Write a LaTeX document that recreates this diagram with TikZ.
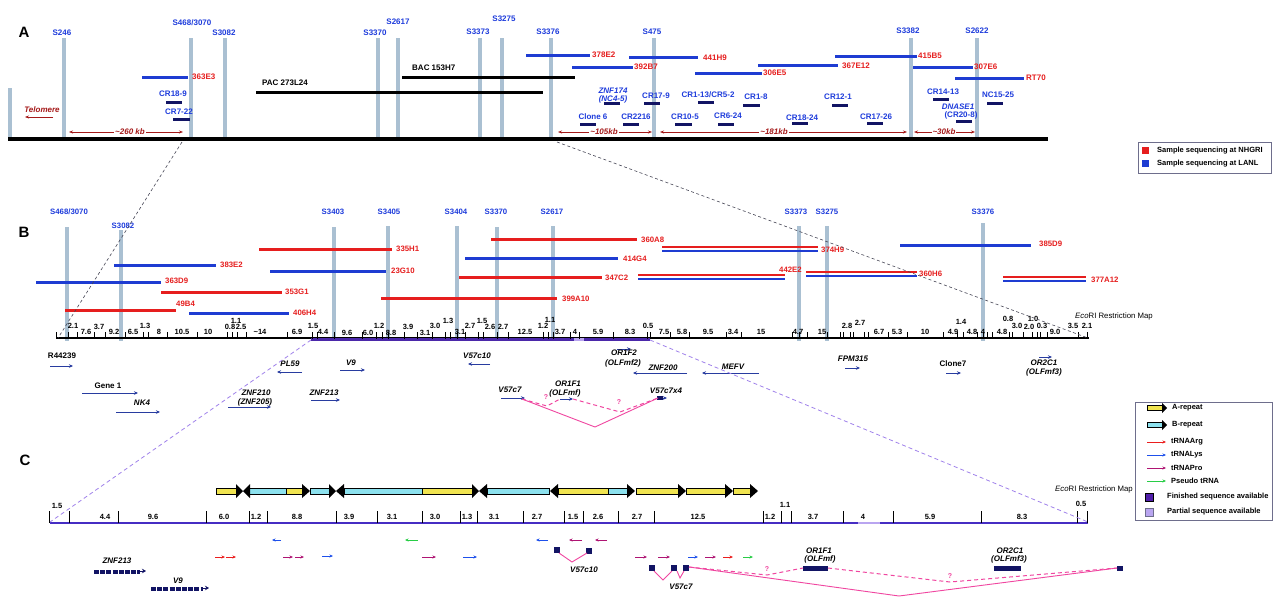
\documentclass[tikz,border=0pt]{standalone}
\usepackage{fontspec}
\setmainfont{Liberation Sans}
\usetikzlibrary{arrows.meta}
\definecolor{barg}{RGB}{170,192,210}
\definecolor{stsblue}{RGB}{30,60,220}
\definecolor{clred}{RGB}{230,30,30}
\definecolor{clblue}{RGB}{30,60,210}
\definecolor{navyb}{RGB}{18,20,100}
\definecolor{dred}{RGB}{165,25,25}
\definecolor{genebl}{RGB}{40,60,160}
\definecolor{mapp}{RGB}{75,40,170}
\definecolor{cmap}{RGB}{70,45,195}
\definecolor{partialc}{RGB}{185,165,240}
\definecolor{dashp}{RGB}{160,130,235}
\definecolor{pinkl}{RGB}{240,70,160}
\definecolor{rptyel}{RGB}{240,228,80}
\definecolor{rptcya}{RGB}{140,225,238}
\definecolor{targ}{RGB}{235,30,30}
\definecolor{tlys}{RGB}{30,80,235}
\definecolor{tpro}{RGB}{175,20,115}
\definecolor{tpsd}{RGB}{40,205,70}
\definecolor{dashg}{RGB}{70,70,85}
\definecolor{finp}{RGB}{80,30,170}
\definecolor{legbd}{RGB}{110,110,140}
\begin{document}
\begin{tikzpicture}[x=1pt,y=-1pt,
  every node/.style={inner sep=0pt,font=\bfseries\fontsize{8}{9}\selectfont},
  grayb/.style={barg,line width=3.5pt},
  stslbl/.style={text=stsblue},
  clonelbl/.style={text=clred,anchor=west},
  bluecl/.style={clblue,line width=3pt},
  redcl/.style={clred,line width=3pt},
  crbar/.style={navyb,line width=3pt},
  crital/.style={text=stsblue,font=\bfseries\itshape\fontsize{8}{9}\selectfont},
  distarr/.style={dred,line width=0.7pt,{Stealth[length=4pt,width=3pt]}-{Stealth[length=4pt,width=3pt]}},
  distlbl/.style={text=dred,font=\bfseries\itshape\fontsize{8}{9}\selectfont,fill=white,inner sep=1pt},
  numlbl/.style={font=\bfseries\fontsize{7.5}{8}\selectfont},
  genearr/.style={genebl,line width=0.9pt,-{Stealth[length=4pt,width=3.5pt]}},
  genelbl/.style={font=\bfseries\itshape\fontsize{8}{9}\selectfont},
  pinksolid/.style={pinkl,line width=0.9pt},
  pinkdash/.style={pinkl,line width=1pt,dash pattern=on 4pt off 3pt},
  qmark/.style={text=pinkl,font=\bfseries\fontsize{7}{8}\selectfont},
  exonbox/.style={fill=navyb,draw=none},
  trna/.style={line width=0.9pt,-{Stealth[length=3.5pt,width=3pt]}},
  legtxt/.style={anchor=west,font=\bfseries\fontsize{7.5}{8}\selectfont},
  panel/.style={font=\bfseries\fontsize{15}{15}\selectfont},
  mapdash/.style={dashg,line width=0.6pt,dash pattern=on 3pt off 2.5pt},
  purpdash/.style={dashp,line width=0.8pt,dash pattern=on 4pt off 3pt}
]
\useasboundingbox[fill=white] (0,0) rectangle (1280,606);

%================ PANEL A =================
\node[panel] (pA) at (24,32) {A};
\foreach \x/\t in {10/88,64/38,191/38,225/38,378/38,398/38,480/38,502/38,551/38,654/38,911/38,977/38}
  \draw[grayb] (\x,\t) -- (\x,139);
\foreach \x/\y/\s [count=\i] in {62/33/S246,224/33/S3082,375/33/S3370,398/22/S2617,478/32/S3373,504/19/S3275,548/32/S3376,652/32/S475,908/31/S3382,977/31/S2622}
  \node[stslbl] (sa\i) at (\x,\y) {\s};
\node[stslbl] (sa0) at (192,23) {S468/3070};

% clones A
\foreach \a/\b/\y/\lx/\ly/\s [count=\i] in {142/188/77/192/77/363E3,526/590/55/592/55/378E2,572/633/67/634/67/392B7,629/698/57/703/58/441H9,695/762/73/763/73/306E5,758/838/65/842/66/367E12,835/917/56/918/56/415B5,913/973/67/974/67/307E6,955/1024/78/1026/78/RT70}
  {\draw[bluecl] (\a,\y) -- (\b,\y);
   \node[clonelbl] (ca\i) at (\lx,\ly) {\s};}
\draw[black,line width=3pt] (256,92) -- (543,92);
\node[anchor=west] (pac) at (262,83) {PAC 273L24};
\draw[black,line width=3pt] (402,77) -- (575,77);
\node[anchor=west] (bac) at (412,68) {BAC 153H7};

% CR clones
\foreach \lx/\ly/\a/\b/\y/\s [count=\i] in {173/94/166/182/102/CR18-9,179/112/173/190/119/CR7-22,656/96/644/660/103/CR17-9,756/97/743/760/105/CR1-8,838/97/832/848/105/CR12-1,593/117/580/596/124/Clone 6,636/117/623/639/124/CR2216,685/117/675/692/124/CR10-5,728/116/718/734/124/CR6-24,802/118/792/808/123/CR18-24,876/117/867/883/123/CR17-26,943/92/933/949/99/CR14-13,998/95/987/1003/103/NC15-25}
  {\draw[crbar] (\a,\y) -- (\b,\y);
   \node[stslbl] (cr\i) at (\lx,\ly) {\s};}
\draw[crbar] (698,102) -- (714,102);
\node[stslbl] (cr14) at (708,95) {CR1-13/CR5-2};
\draw[crbar] (604,103) -- (620,103);
\node[crital] (znf174) at (613,91) {ZNF174};
\node[crital] (nc45) at (613,99) {(NC4-5)};
\draw[crbar] (956,121) -- (972,121);
\node[crital] (dnase) at (958,107) {DNASE1};
\node[stslbl] (cr208) at (961,115) {(CR20-8)};

% main line A
\draw[black,line width=4pt] (8,139) -- (1048,139);

% distances
\coordinate (tel1) at (53,117); \coordinate (tel2) at (25,117);
\draw[dred,line width=0.8pt,-{Stealth[length=4pt,width=3pt]}] (tel1) -- (tel2);
\node[text=dred,font=\bfseries\itshape\fontsize{8}{9}\selectfont] (telo) at (42,110) {Telomere};
\foreach \a/\b/\m/\s [count=\i] in {69/183/130/\textasciitilde260 kb,558/652/604/\textasciitilde105kb,660/907/774/\textasciitilde181kb,914/975/944/\textasciitilde30kb}
  {\draw[distarr] (\a,132) -- (\b,132);
   \node[distlbl] (dist\i) at (\m,132) {\s};}

% legend 1
\draw[legbd,line width=0.6pt] (1138,142) rectangle (1271,173);
\fill[clred] (1142,147) rectangle (1149,154);
\node[legtxt] (l1a) at (1157,150.5) {Sample sequencing at NHGRI};
\fill[clblue] (1142,160) rectangle (1149,167);
\node[legtxt] (l1b) at (1157,163.5) {Sample sequencing at LANL};

%================ PANEL B =================
\node[panel] (pB) at (24,232) {B};
\foreach \x/\t in {67/227,121/230,334/227,388/226,457/226,497/227,553/226,799/226,827/226,983/223}
  \draw[grayb] (\x,\t) -- (\x,341);
\node[stslbl,font=\bfseries\fontsize{7.8}{9}\selectfont] (sb0) at (69,212) {S468/3070};
\foreach \x/\y/\s [count=\i] in {123/226/S3082,333/212/S3403,389/212/S3405,456/212/S3404,496/212/S3370,552/212/S2617,796/212/S3373,827/212/S3275,983/212/S3376}
  \node[stslbl,font=\bfseries\fontsize{7.8}{9}\selectfont] (sb\i) at (\x,\y) {\s};

\foreach \a/\b/\y/\lx/\ly/\s [count=\i] in {259/392/249/396/249/335H1,161/282/292/285/292/353G1,65/176/310/176/304/49B4,381/557/298/562/299/399A10,491/637/239/641/240/360A8,459/602/277/605/278/347C2}
  {\draw[redcl] (\a,\y) -- (\b,\y);
   \node[clonelbl,font=\bfseries\fontsize{7.8}{9}\selectfont] (cbr\i) at (\lx,\ly) {\s};}
\foreach \a/\b/\y/\lx/\ly/\s [count=\i] in {114/216/265/220/265/383E2,270/386/271/391/271/23G10,36/161/282/165/281/363D9,189/289/313/293/313/406H4,465/618/258/623/259/414G4,900/1031/245/1039/244/385D9}
  {\draw[bluecl] (\a,\y) -- (\b,\y);
   \node[clonelbl,font=\bfseries\fontsize{7.8}{9}\selectfont] (cbb\i) at (\lx,\ly) {\s};}
\foreach \a/\b/\y/\lx/\ly/\s [count=\i] in {662/818/247/821/250/374H9,638/785/275/779/270/442E2,806/917/272/919/274/360H6,1003/1086/277/1091/280/377A12}
  {\draw[clred,line width=2.5pt] (\a,\y) -- (\b,\y);
   \draw[clblue,line width=2.5pt] (\a,\y+4) -- (\b,\y+4);
   \node[clonelbl,font=\bfseries\fontsize{7.8}{9}\selectfont] (cbd\i) at (\lx,\ly) {\s};}

% restriction map B
\draw[black,line width=1.3pt] (56,338) -- (1089,338);
\draw[mapp,line width=3pt] (311,339.5) -- (574,339.5);
\draw[partialc,line width=3pt] (574,339.5) -- (584,339.5);
\draw[mapp,line width=3pt] (584,339.5) -- (650,339.5);
\foreach \x in {56,68,77,94,105,125,143,148,167,197,227,232,237,246,287,312,317,334,362,376,382,388,404,417,432,445,450,457,465,478,483,497,508,543,548,553,570,579,613,647,650,670,689,726,741,792,799,807,827,840,843,850,853,864,868,888,907,943,957,963,977,983,987,992,1009,1012,1023,1032,1037,1040,1047,1078,1087}
  \draw[black,line width=0.6pt] (\x,332) -- (\x,339);
\foreach \x/\y/\n [count=\i] in {73/326/2.1,86/332/7.6,99/327/3.7,114/332/9.2,133/332/6.5,145/326/1.3,159/332/8,182/332/10.5,208/332/10,230/327/0.8,241/327/2.5,236/321/1.1,260/332/\textasciitilde14,297/332/6.9,313/326/1.5,323/332/4.4,347/333/9.6,368/333/6.0,379/326/1.2,391/333/8.8,408/327/3.9,425/333/3.1,435/326/3.0,448/321/1.3,460/332/3.1,470/326/2.7,482/321/1.5,490/327/2.6,503/327/2.7,525/332/12.5,543/326/1.2,550/320/1.1,560/332/3.7,575/332/4,598/332/5.9,630/332/8.3,648/326/0.5,664/332/7.5,682/332/5.8,708/332/9.5,733/332/3.4,761/332/15,798/332/4.7,822/332/15,847/326/2.8,860/323/2.7,879/332/6.7,897/332/5.3,925/332/10,953/332/4.9,961/322/1.4,972/332/4.8,983/332/4,1002/332/4.8,1008/319/0.8,1017/326/3.0,1033/319/1.0,1029/327/2.0,1042/326/0.3,1055/332/9.0,1073/326/3.5,1087/326/2.1}
  \node[numlbl] (nb\i) at (\x,\y) {\n};
\node[anchor=west,font=\fontsize{7.8}{9}\selectfont] (ecoB) at (1075,316) {\textit{Eco}RI Restriction Map};

% genes B
\foreach \a/\b/\y in {50/73/366,82/138/393,116/160/412,302/277/372,340/365/370,228/271/407,311/340/400,490/468/364,617/631/349,687/633/373,759/702/373,501/525/398,560/573/399,657/667/398,845/860/368,946/961/373,1039/1052/357}
  \draw[genearr] (\a,\y) -- (\b,\y);
\fill[navyb] (657,396) rectangle (663,400);
\foreach \x/\y/\s [count=\i] in {142/403/NK4,290/364/PL59,351/363/V9,256/393/ZNF210,255/402/(ZNF205),324/393/ZNF213,477/356/V57c10,624/353/OR1F2,623/363/(OLFmf2),663/368/ZNF200,733/367/MEFV,510/390/V57c7,568/384/OR1F1,565/393/(OLFmf),666/391/V57c7x4,853/359/FPM315,1044/363/OR2C1,1044/372/(OLFmf3)}
  \node[genelbl] (gb\i) at (\x,\y) {\s};
\foreach \x/\y/\s [count=\i] in {62/356/R44239,108/386/Gene 1,953/364/Clone7}
  \node (gp\i) at (\x,\y) {\s};
% splicing B
\coordinate (bv1) at (522,399); \coordinate (bv2) at (595,427); \coordinate (bv3) at (658,398);
\draw[pinksolid] (bv1) -- (bv2) -- (bv3);
\coordinate (bd1) at (547,406); \coordinate (bd2) at (560,399); \coordinate (bd3) at (573,399); \coordinate (bd4) at (620,412);
\draw[pinkdash] (bv1) -- (bd1) -- (bd2);
\draw[pinkdash] (bd3) -- (bd4) -- (bv3);
\node[qmark] (qb1) at (546,397) {?};
\node[qmark] (qb2) at (619,402) {?};

% legend 2
\draw[legbd,line width=0.6pt] (1135,402) rectangle (1272,520);
\filldraw[fill=rptyel,draw=black,line width=0.4pt] (1147,405.5) rectangle (1162,410.5);
\fill (1162,403) -- (1167,408) -- (1162,413) -- cycle;
\node[legtxt] (lgA) at (1172,408) {A-repeat};
\filldraw[fill=rptcya,draw=black,line width=0.4pt] (1147,422.5) rectangle (1162,427.5);
\fill (1162,420) -- (1167,425) -- (1162,430) -- cycle;
\node[legtxt] (lgB) at (1172,425) {B-repeat};
\foreach \c/\y/\s [count=\i] in {targ/442/tRNAArg,tlys/455/tRNALys,tpro/468/tRNAPro,tpsd/481/Pseudo tRNA}
  {\draw[trna,\c] (1147,\y) -- (1166,\y);
   \node[legtxt] (lgt\i) at (1171,\y) {\s};}
\filldraw[fill=finp,draw=black,line width=0.4pt] (1145,493) rectangle (1153,501);
\node[legtxt,font=\fontsize{7.5}{8}\selectfont\bfseries] (lgF) at (1167,497) {Finished sequence available};
\filldraw[fill=partialc,draw=legbd,line width=0.4pt] (1145,508) rectangle (1153,516);
\node[legtxt,font=\fontsize{7.5}{8}\selectfont\bfseries] (lgP) at (1167,512) {Partial sequence available};

%================ PANEL C =================
\node[panel] (pC) at (25,460) {C};
% repeats
\foreach \a/\b/\c in {216/236/rptyel,249/286/rptcya,286/302/rptyel,310/329/rptcya,344/422/rptcya,422/472/rptyel,487/549/rptcya,558/608/rptyel,608/627/rptcya,636/678/rptyel,686/725/rptyel,733/750/rptyel}
  \filldraw[fill=\c,draw=black,line width=0.4pt] (\a,488) rectangle (\b,494);
\foreach \a/\b in {236/243,302/310,329/336,472/479,627/635,678/686,725/733,750/758}
  \fill[black] (\a,484) -- (\b,491) -- (\a,498) -- cycle;
\foreach \a/\b in {243/250,336/344,479/487,550/558}
  \fill[black] (\b,484) -- (\a,491) -- (\b,498) -- cycle;

% map C
\draw[cmap,line width=2.8pt] (50,523) -- (858,523);
\draw[partialc,line width=2.8pt] (858,523) -- (880,523);
\draw[cmap,line width=2.8pt] (880,523) -- (1088,523);
\foreach \x in {49,69,118,206,249,267,336,377,422,460,477,523,564,583,618,654,763,781,791,843,893,981,1077,1087}
  \draw[black,line width=0.6pt] (\x,511) -- (\x,523);
\foreach \x/\y/\n [count=\i] in {57/506/1.5,105/517/4.4,153/517/9.6,224/517/6.0,256/517/1.2,297/517/8.8,349/517/3.9,392/517/3.1,435/517/3.0,467/517/1.3,494/517/3.1,537/517/2.7,573/517/1.5,598/517/2.6,637/517/2.7,698/517/12.5,770/517/1.2,785/505/1.1,813/517/3.7,863/517/4,930/517/5.9,1022/517/8.3,1081/504/0.5}
  \node[numlbl] (nc\i) at (\x,\y) {\n};
\node[anchor=west,font=\fontsize{7.8}{9}\selectfont] (ecoC) at (1055,489) {\textit{Eco}RI Restriction Map};

% tRNAs
\foreach \a/\b/\y/\c in {281/272/540/tlys,418/405/540/tpsd,215/225/557/targ,226/236/557/targ,283/293/557/tpro,295/304/557/tpro,322/333/556/tlys,422/436/557/tpro,463/477/557/tlys,548/536/540/tlys,582/569/540/tpro,607/595/540/tpro,635/647/557/tpro,658/670/557/tpro,688/698/557/tlys,705/716/557/tpro,723/733/557/targ,743/753/557/tpsd}
  \draw[trna,\c] (\a,\y) -- (\b,\y);

% genes C
\draw[navyb,line width=3.5pt,dash pattern=on 5pt off 1.2pt] (94,572) -- (140,572);
\draw[navyb,line width=1pt,-{Stealth[length=4pt,width=4.5pt]}] (138,571) -- (146,571);
\draw[navyb,line width=3.5pt,dash pattern=on 5pt off 1.2pt] (151,589) -- (203,589);
\draw[navyb,line width=1pt,-{Stealth[length=4pt,width=4.5pt]}] (201,588) -- (209,588);
\foreach \x/\y/\s [count=\i] in {117/561/ZNF213,178/581/V9,584/570/V57c10,681/587/V57c7,819/551/OR1F1,820/559/(OLFmf),1010/551/OR2C1,1009/559/(OLFmf3)}
  \node[genelbl] (gc\i) at (\x,\y) {\s};

% exons
\foreach \a/\y [count=\i] in {554/547,586/548,649/565,671/565,683/565}
  \fill[navyb] (\a,\y) rectangle (\a+6,\y+5.5);
\fill[navyb] (803,565.5) rectangle (828,571);
\fill[navyb] (994,565.5) rectangle (1021,571);
\fill[navyb] (1117,565.5) rectangle (1123,570.5);

% splicing C
\draw[pinksolid] (559,553) -- (572,562) -- (587,553);
\draw[pinksolid] (654,571) -- (663,580) -- (672,571);
\draw[pinksolid] (677,571) -- (680,578) -- (684,571);
\coordinate (cs1) at (689,567); \coordinate (cs2) at (899,596); \coordinate (cs3) at (1117,568);
\draw[pinksolid] (cs1) -- (cs2) -- (cs3);
\coordinate (cd1) at (767,575); \coordinate (cd2) at (803,568); \coordinate (cd3) at (828,568); \coordinate (cd4) at (950,582);
\draw[pinkdash] (cs1) -- (cd1) -- (cd2);
\draw[pinkdash] (cd3) -- (cd4) -- (cs3);
\node[qmark] (qc1) at (767,569) {?};
\node[qmark] (qc2) at (950,576) {?};

%================ zoom lines =================
\coordinate (za1) at (182,142); \coordinate (zb1) at (58,338);
\coordinate (za2) at (557,142); \coordinate (zb2) at (1088,338);
\draw[mapdash] (za1) -- (zb1);
\draw[mapdash] (za2) -- (zb2);
\coordinate (zc1) at (311,340); \coordinate (zd1) at (50,522);
\coordinate (zc2) at (650,340); \coordinate (zd2) at (1088,522);
\draw[purpdash] (zc1) -- (zd1);
\draw[purpdash] (zc2) -- (zd2);
\end{tikzpicture}
\end{document}
